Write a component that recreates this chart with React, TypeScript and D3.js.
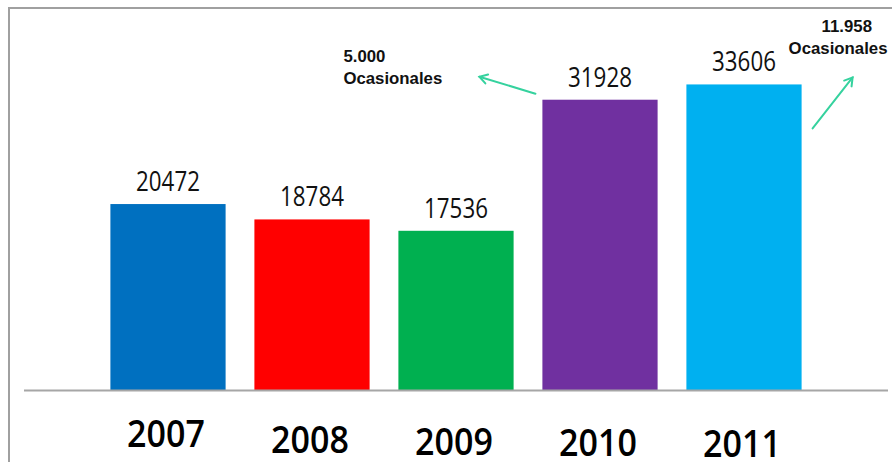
import React from "react";
import * as d3 from "d3";

const years = ["2007", "2008", "2009", "2010", "2011"];
const values = [20472, 18784, 17536, 31928, 33606];
const barColors = ["#0070C0", "#FF0000", "#00B050", "#7030A0", "#00B0F0"];
const notes = [
  { year: "2010", amount: "5.000", label: "Ocasionales" },
  { year: "2011", amount: "11.958", label: "Ocasionales" },
];

const W = 892;
const H = 462;
const baseY = 390.5;
const yearDy = [0, 6, 8, 9, 10];

export default function App() {
  const x = d3
    .scaleBand<string>()
    .domain(years)
    .range([24, 888])
    .paddingInner(0.2)
    .paddingOuter(0.6);
  const y = d3.scaleLinear().domain([0, 40000]).range([baseY, baseY - 364.3]);
  const bw = x.bandwidth();

  const b2010x = x("2010")!;
  const b2010y = y(values[3]);
  const b2011x = x("2011")! + bw;
  const b2011y = y(values[4]);

  const arrowColor = "#35D29E";
  const arrows = [
    { x1: b2010x - 7, y1: b2010y - 6, x2: b2010x - 63, y2: b2010y - 23 },
    { x1: b2011x + 11, y1: b2011y + 44, x2: b2011x + 51, y2: b2011y - 7 },
  ];

  const head = (a: { x1: number; y1: number; x2: number; y2: number }) => {
    const ang = Math.atan2(a.y2 - a.y1, a.x2 - a.x1);
    const len = 9;
    const spread = 0.55;
    const p1 = [a.x2 - len * Math.cos(ang - spread), a.y2 - len * Math.sin(ang - spread)];
    const p2 = [a.x2 - len * Math.cos(ang + spread), a.y2 - len * Math.sin(ang + spread)];
    return `M${p1[0]},${p1[1]}L${a.x2},${a.y2}L${p2[0]},${p2[1]}`;
  };

  return (
    <svg
      width={W}
      height={H}
      style={{ position: "absolute", left: 0, top: 0, background: "#fff" }}
    >
      <rect x={0} y={0} width={W} height={H} fill="#fff" />
      <rect x={9} y={8} width={W + 20} height={H + 20} fill="none" stroke="#A0A0A0" strokeWidth={2} />
      {years.map((yr, i) => (
        <rect
          key={yr}
          x={x(yr)}
          y={y(values[i])}
          width={bw}
          height={baseY - y(values[i])}
          fill={barColors[i]}
        />
      ))}
      <line x1={24} x2={888} y1={baseY} y2={baseY} stroke="#A6A6A6" strokeWidth={1.8} />
      {years.map((yr, i) => (
        <text
          key={"v" + yr}
          transform={`translate(${x(yr)! + bw / 2},${y(values[i]) - 13}) scale(0.84,1)`}
          textAnchor="middle"
          fontFamily="'Open Sans', sans-serif"
          fontSize={26.6}
          fill="#111"
        >
          {values[i]}
        </text>
      ))}
      {years.map((yr, i) => (
        <text
          key={"y" + yr}
          transform={`translate(${x(yr)! + bw / 2 - 2},${447 + yearDy[i]}) scale(0.9,1)`}
          textAnchor="middle"
          fontFamily="'Open Sans', sans-serif"
          fontWeight={600}
          fontSize={37.8}
          fill="#000"
        >
          {yr}
        </text>
      ))}
      {arrows.map((a, i) => (
        <g key={"a" + i} stroke={arrowColor} strokeWidth={2} fill="none" strokeLinecap="round">
          <line x1={a.x1} y1={a.y1} x2={a.x2} y2={a.y2} />
          <path d={head(a)} />
        </g>
      ))}
      <g fontFamily="'Liberation Sans', Arial, sans-serif" fontWeight="bold" fontSize={16.8} fill="#111">
        <text x={b2010x - 199} y={62}>{notes[0].amount}</text>
        <text x={b2010x - 199} y={84}>{notes[0].label}</text>
        <text x={b2011x + 20} y={32}>{notes[1].amount}</text>
        <text x={b2011x - 13} y={54}>{notes[1].label}</text>
      </g>
    </svg>
  );
}
